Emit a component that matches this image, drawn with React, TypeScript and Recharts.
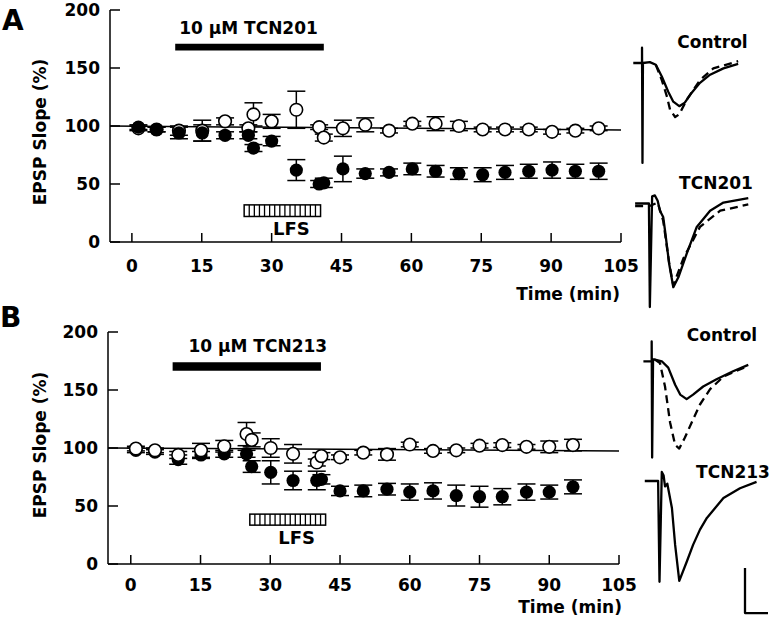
import React from "react";
import {
  ScatterChart,
  Scatter,
  XAxis,
  YAxis,
  ErrorBar,
  ReferenceLine,
  ReferenceArea,
  LineChart,
  Line,
} from "recharts";

const FONT = '"DejaVu Sans", Verdana, sans-serif';

// ---- panel A (TCN201) ----
const timesA = [1.4, 5.3, 10.1, 15.1, 20, 25, 26.1, 30, 35.3, 40.2, 41.2, 45.3, 50.1, 55.2, 60.2, 65.2, 70.2, 75.3, 80.1, 85.2, 90.2, 95.2, 100.2];
const ctrlA = [98, 97, 96, 96, 104, 98, 110, 104, 114, 99, 90, 98, 101, 96, 102, 102, 100, 97, 97, 97, 95, 96, 98];
const ctrlErrA = [2, 2, 4, 9, 3, 3, 10, 6, 16, 2, 3, 7, 6, 2, 2, 6, 4, 2, 2, 2, 2, 2, 2];
const drugA = [99, 97, 94, 94, 92, 92, 81, 87, 62, 50, 51, 63, 59, 60, 63, 61, 59, 58, 60, 61, 62, 61, 61];
const drugErrA = [2, 2, 5, 7, 3, 3, 3, 4, 9, 3, 4, 11, 4, 3, 5, 5, 5, 6, 6, 6, 7, 6, 7];
const baselineA = [100, 96.6];
const applyA = [9.3, 41.2];
const lfsA = [24.1, 40.5];

// ---- panel B (TCN213) ----
const timesB = [1.1, 5.2, 10.2, 15.1, 20.1, 24.9, 26, 30.1, 34.9, 40, 41, 45, 50, 55.1, 60, 65, 70, 75, 79.9, 85.1, 90, 95.1];
const ctrlB = [99.5, 98, 94, 98, 101.5, 112, 107, 100, 95, 87.5, 93, 92, 96, 94.5, 103, 97.5, 98, 102, 102.5, 101, 101, 102.5];
const ctrlErrB = [2, 2, 3, 6, 5, 10, 6, 8, 8, 3, 3, 2, 2, 5, 2, 2, 2, 2, 2, 2, 5, 5];
const drugB = [98, 96.5, 90, 94, 95, 95, 84, 79, 72, 72, 73, 63, 63, 64.5, 62, 63, 59, 58, 58, 62, 62, 66.5];
const drugErrB = [2, 2, 4, 3, 3, 3, 5, 10, 8, 8, 4, 4, 5, 5, 7, 7, 9, 9, 7, 7, 6, 6];
const baselineB = [100, 97.5];
const applyB = [9, 40.9];
const lfsB = [25.6, 41.9];

const xTicks = [0, 15, 30, 45, 60, 75, 90, 105];
const yTicks = [0, 50, 100, 150, 200];

// ---- example fEPSP traces: [ms, mV], solid = before LFS, dashed = after ----
const trCtrlA = [[1.8, 0], [3.7, 0], [3.7, 0.17], [3.8, -1.11], [3.9, 0], [5.4, 0.01], [6.7, -0.02], [8.0, -0.15], [9.4, -0.32], [10.5, -0.43], [11.8, -0.48], [13.0, -0.44], [14.5, -0.33], [16.3, -0.22], [18.5, -0.13], [21.4, -0.06], [24.6, -0.01]];
const trCtrlALfs = [[6.7, -0.02], [8.0, -0.19], [9.1, -0.37], [9.8, -0.52], [10.9, -0.6], [11.8, -0.57], [13.4, -0.41], [16.3, -0.19], [19.2, -0.06], [24.6, 0.02]];
const tr201 = [[2.2, 0], [5.2, 0], [5.4, -1.15], [5.9, 0.08], [6.5, 0.09], [7.1, 0.03], [7.6, -0.08], [8.3, -0.15], [8.7, -0.3], [9.6, -0.67], [10.5, -0.93], [11.6, -0.82], [13.4, -0.56], [15.6, -0.26], [18.5, -0.08], [21.4, 0.01], [26.8, 0.06]];
const tr201Lfs = [[2.2, -0.03], [5.2, -0.03], [7.1, 0.01], [8.3, -0.19], [9.6, -0.66], [10.5, -0.91], [12.7, -0.61], [16.3, -0.26], [20.7, -0.08], [26.8, -0.01]];
const trCtrlB = [[4.0, 0], [5.8, 0], [5.8, 0.22], [5.9, -1.07], [6.1, 0.02], [6.5, 0.02], [8.0, 0], [9.4, -0.07], [10.9, -0.26], [12.0, -0.37], [13.4, -0.42], [14.8, -0.37], [17.0, -0.28], [19.9, -0.2], [23.5, -0.11], [26.8, -0.04]];
const trCtrlBLfs = [[6.5, 0.02], [7.6, -0.02], [8.7, -0.28], [9.8, -0.68], [10.9, -0.93], [11.8, -0.97], [13.0, -0.85], [14.5, -0.68], [16.3, -0.48], [18.5, -0.31], [21.4, -0.17], [26.8, -0.05]];
const tr213 = [[4.3, 0], [7.2, 0], [7.5, -1.12], [8.0, 0.1], [8.4, 0.06], [8.7, -0.06], [9.2, -0.03], [10.2, -0.3], [10.9, -0.71], [11.8, -1.11], [13.4, -0.9], [14.8, -0.71], [16.3, -0.54], [17.8, -0.41], [21.4, -0.19], [25.0, -0.08], [28.6, -0.01]];
const scaleBar = [[0, 0.5], [0, 0], [5, 0]]; // 0.5 mV, 5 ms

const PX_PER_MS = 4.6;
const PX_PER_MV = 90;

const toPts = (ts: number[], vs: number[], es: number[]) =>
  ts.map((t, i) => ({ t, v: vs[i], e: es[i] }));

const axisStyle = { stroke: "#000", strokeWidth: 1.5 };
const tickStyle = { fill: "#000", fontSize: 17, fontWeight: "bold" };

const OpenDot = (p: any) => (
  <circle cx={p.cx} cy={p.cy} r={6.3} fill="#fff" stroke="#000" strokeWidth={1.6} />
);
const FilledDot = (p: any) => <circle cx={p.cx} cy={p.cy} r={6.6} fill="#000" />;

const HatchBox = (p: any) => {
  const { x, y, width, height } = p;
  const n = Math.round(width / 5);
  const lines = [];
  for (let i = 1; i < n; i++) {
    const lx = x + (i * width) / n;
    lines.push(<line key={i} x1={lx} x2={lx} y1={y} y2={y + height} stroke="#000" strokeWidth={1.3} />);
  }
  return (
    <g>
      <rect x={x} y={y} width={width} height={height} fill="#fff" stroke="#000" strokeWidth={1.5} />
      {lines}
    </g>
  );
};

const BoxLabel = (p: any) => {
  const { viewBox, text, dx, dy, below, size } = p;
  const y = below ? viewBox.y + viewBox.height + dy : viewBox.y + dy;
  return (
    <text x={viewBox.x + viewBox.width / 2 + dx} y={y} textAnchor="middle" fontSize={size || 17} fontWeight="bold" fill="#000">
      {text}
    </text>
  );
};

const TimeLabel = (p: any) => {
  const { viewBox, dx, dy } = p;
  return (
    <text x={viewBox.x + viewBox.width + dx} y={viewBox.y + dy} textAnchor="end" fontSize={17} fontWeight="bold" fill="#000">
      Time (min)
    </text>
  );
};

const SlopeLabel = (p: any) => {
  const { viewBox, bx, dy } = p;
  const cy = viewBox.y + viewBox.height / 2 + dy;
  return (
    <text x={bx} y={cy} transform={`rotate(-90 ${bx} ${cy})`} textAnchor="middle" fontSize={17} fontWeight="bold" fill="#000">
      EPSP Slope (%)
    </text>
  );
};

interface PanelProps {
  times: number[];
  ctrl: number[];
  ctrlErr: number[];
  drug: number[];
  drugErr: number[];
  baseline: number[];
  apply: number[];
  applyLevel: number[];
  applyText: string;
  applyDx: number;
  lfs: number[];
  lfsLevel: number[];
  xMin: number;
  tickGap: number;
  timeDx: number;
  timeDy: number;
  slopeX: number;
  slopeDy: number;
  openOnTop: boolean;
}

const Panel = (props: PanelProps) => {
  const open = toPts(props.times, props.ctrl, props.ctrlErr);
  const filled = toPts(props.times, props.drug, props.drugErr);
  const openSeries = (
    <Scatter key="open" data={open} shape={OpenDot} isAnimationActive={false}>
      <ErrorBar dataKey="e" direction="y" width={9} stroke="#000" strokeWidth={1.5} />
    </Scatter>
  );
  const filledSeries = (
    <Scatter key="filled" data={filled} shape={FilledDot} isAnimationActive={false}>
      <ErrorBar dataKey="e" direction="y" width={9} stroke="#000" strokeWidth={1.5} />
    </Scatter>
  );
  return (
    <ScatterChart width={640} height={312} margin={{ top: 10, right: 19, left: 0, bottom: 0 }}>
      <XAxis
        dataKey="t"
        type="number"
        domain={[props.xMin, 105]}
        ticks={xTicks}
        allowDataOverflow
        height={70}
        tickSize={-9}
        tickMargin={props.tickGap}
        tick={tickStyle}
        axisLine={axisStyle}
        tickLine={axisStyle}
        label={<TimeLabel dx={props.timeDx} dy={props.timeDy} />}
      />
      <YAxis
        dataKey="v"
        type="number"
        domain={[0, 200]}
        ticks={yTicks}
        allowDataOverflow
        width={110}
        tickSize={-10}
        tickMargin={20}
        tick={tickStyle}
        axisLine={axisStyle}
        tickLine={axisStyle}
        label={<SlopeLabel bx={props.slopeX} dy={props.slopeDy} />}
      />
      <ReferenceArea
        x1={props.apply[0]}
        x2={props.apply[1]}
        y1={props.applyLevel[0]}
        y2={props.applyLevel[1]}
        fill="#000"
        fillOpacity={1}
        stroke="none"
        label={<BoxLabel text={props.applyText} dx={props.applyDx} dy={-10} />}
      />
      <ReferenceArea
        x1={props.lfs[0]}
        x2={props.lfs[1]}
        y1={props.lfsLevel[0]}
        y2={props.lfsLevel[1]}
        shape={HatchBox}
        label={<BoxLabel text="LFS" dx={9} dy={18.5} below size={18} />}
      />
      <ReferenceLine
        segment={[
          { x: props.xMin, y: props.baseline[0] },
          { x: 105, y: props.baseline[1] },
        ]}
        stroke="#000"
        strokeWidth={1.5}
      />
      {props.openOnTop ? [filledSeries, openSeries] : [openSeries, filledSeries]}
    </ScatterChart>
  );
};

interface TraceProps {
  left: number;
  baselineY: number;
  tRange: number[];
  vRange: number[];
  solid?: number[][];
  dashed?: number[][];
}

const TraceBox = ({ left, baselineY, tRange, vRange, solid, dashed }: TraceProps) => {
  const width = (tRange[1] - tRange[0]) * PX_PER_MS;
  const height = (vRange[1] - vRange[0]) * PX_PER_MV;
  const toRows = (pts: number[][]) => pts.map(([t, v]) => ({ t, v }));
  return (
    <div style={{ position: "absolute", left, top: baselineY - vRange[1] * PX_PER_MV }}>
      <LineChart width={width} height={height} margin={{ top: 0, right: 0, bottom: 0, left: 0 }}>
        <XAxis dataKey="t" type="number" domain={tRange} hide allowDataOverflow />
        <YAxis type="number" domain={vRange} hide allowDataOverflow />
        {dashed && (
          <Line
            data={toRows(dashed)}
            dataKey="v"
            type="linear"
            stroke="#000"
            strokeWidth={2.3}
            strokeDasharray="8 5"
            strokeLinejoin="round"
            dot={false}
            isAnimationActive={false}
          />
        )}
        {solid && (
          <Line
            data={toRows(solid)}
            dataKey="v"
            type="linear"
            stroke="#000"
            strokeWidth={2.3}
            strokeLinejoin="round"
            dot={false}
            isAnimationActive={false}
          />
        )}
      </LineChart>
    </div>
  );
};

const tag = (text: string, cx: number, cy: number, size = 17) => (
  <div
    style={{
      position: "absolute",
      left: cx,
      top: cy,
      transform: "translate(-50%, -50%)",
      fontSize: size,
      lineHeight: 1,
      whiteSpace: "nowrap",
    }}
  >
    {text}
  </div>
);

export default function App() {
  const traceT = [0, 31.74];
  return (
    <div
      style={{
        position: "absolute",
        left: 0,
        top: 0,
        width: 771,
        height: 627,
        background: "#fff",
        fontFamily: FONT,
        fontWeight: "bold",
        color: "#000",
        overflow: "hidden",
      }}
    >
      <div style={{ position: "absolute", left: 0, top: 0 }}>
        <Panel
          times={timesA}
          ctrl={ctrlA}
          ctrlErr={ctrlErrA}
          drug={drugA}
          drugErr={drugErrA}
          baseline={baselineA}
          apply={applyA}
          applyLevel={[165, 171]}
          applyText="10 µM TCN201"
          applyDx={-1}
          lfs={lfsA}
          lfsLevel={[22, 32]}
          xMin={-4.7}
          tickGap={27}
          timeDx={-1}
          timeDy={58}
          slopeX={46}
          slopeDy={6}
          openOnTop={false}
        />
      </div>
      <div style={{ position: "absolute", left: -2, top: 322 }}>
        <Panel
          times={timesB}
          ctrl={ctrlB}
          ctrlErr={ctrlErrB}
          drug={drugB}
          drugErr={drugErrB}
          baseline={baselineB}
          apply={applyB}
          applyLevel={[166.7, 174]}
          applyText="10 µM TCN213"
          applyDx={11}
          lfs={lfsB}
          lfsLevel={[33.5, 43]}
          xMin={-4.9}
          tickGap={24}
          timeDx={3}
          timeDy={48.5}
          slopeX={48}
          slopeDy={-3}
          openOnTop={true}
        />
      </div>

      <div style={{ position: "absolute", left: 2, top: 6.7, fontSize: 28, lineHeight: 1 }}>A</div>
      <div style={{ position: "absolute", left: 0, top: 303.7, fontSize: 28, lineHeight: 1 }}>B</div>

      <TraceBox left={625} baselineY={63.3} tRange={traceT} vRange={[-1.2, 0.2]} solid={trCtrlA} dashed={trCtrlALfs} />
      <TraceBox left={625} baselineY={203} tRange={traceT} vRange={[-1.2, 0.15]} solid={tr201} dashed={tr201Lfs} />
      <TraceBox left={625} baselineY={361.7} tRange={traceT} vRange={[-1.13, 0.27]} solid={trCtrlB} dashed={trCtrlBLfs} />
      <TraceBox left={625} baselineY={481} tRange={traceT} vRange={[-1.2, 0.2]} solid={tr213} />
      <TraceBox left={741} baselineY={613} tRange={[-0.87, 5.65]} vRange={[-0.044, 0.556]} solid={scaleBar} />

      {tag("Control", 712.5, 42)}
      {tag("TCN201", 716, 183)}
      {tag("Control", 722, 335)}
      {tag("TCN213", 733, 472)}
    </div>
  );
}
